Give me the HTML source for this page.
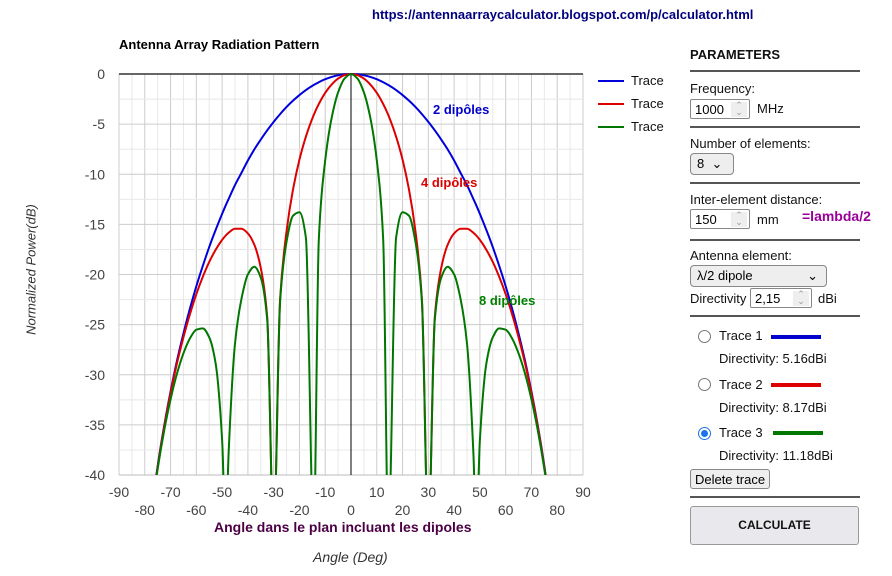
<!DOCTYPE html>
<html style="width:892px;height:576px;overflow:hidden"><head><meta charset="utf-8">
<style>
body{margin:0;width:892px;height:576px;background:#fff;font-family:"Liberation Sans",Arial,sans-serif;position:relative;overflow:hidden}
.a{position:absolute;white-space:nowrap}
.p{font-size:13px;color:#111}
.sep{position:absolute;left:690px;width:170px;height:2px;background:#555}
.inp{position:absolute;border:1px solid #888;border-radius:2px;background:#fff;font-size:13px;height:20px;line-height:20px;padding-left:4px;box-sizing:border-box}
.spin{position:absolute;right:2px;top:2px;width:16px;height:15px;background:#eee;color:#999;font-size:9px;text-align:center;line-height:7px}
.sel{position:absolute;border:1px solid #888;border-radius:4px;background:#eee;font-size:13px;height:22px;line-height:20px;padding-left:6px;box-sizing:border-box}
.radio{position:absolute;width:11px;height:11px;border:1.5px solid #777;border-radius:50%}
</style></head><body>
<div class="a" style="left:372px;top:7px;font-size:13px;font-weight:bold;color:#000080">https://antennaarraycalculator.blogspot.com/p/calculator.html</div>
<div class="a" style="left:119px;top:37px;font-size:13px;font-weight:bold;color:#000">Antenna Array Radiation Pattern</div>

<svg id="chart" width="892" height="576" style="position:absolute;left:0;top:0">
<g id="grid"></g><g id="series"></g><g id="labels"></g>
</svg>

<div class="a" style="left:214px;top:519px;font-size:14px;font-weight:bold;color:#4b0045">Angle dans le plan incluant les dipoles</div>
<div class="a" style="left:313px;top:549px;font-size:14px;font-style:italic;color:#333">Angle (Deg)</div>
<div class="a" style="left:-39px;top:262px;font-size:13px;font-style:italic;color:#333;transform:rotate(-90deg);width:140px;text-align:center">Normalized Power(dB)</div>

<div class="a" style="left:433px;top:102px;font-size:13px;font-weight:bold;color:#0000cc">2 dipôles</div>
<div class="a" style="left:421px;top:175px;font-size:13px;font-weight:bold;color:#dd0000">4 dipôles</div>
<div class="a" style="left:479px;top:293px;font-size:13px;font-weight:bold;color:#008000">8 dipôles</div>

<div>
<div class="a" style="left:598px;top:80px;width:26px;height:2px;background:#0000dd"></div>
<div class="a p" style="left:631px;top:73px">Trace</div>
<div class="a" style="left:598px;top:103px;width:26px;height:2px;background:#dd0000"></div>
<div class="a p" style="left:631px;top:96px">Trace</div>
<div class="a" style="left:598px;top:126px;width:26px;height:2px;background:#007700"></div>
<div class="a p" style="left:631px;top:119px">Trace</div>
</div>

<div class="a" style="left:690px;top:47px;font-size:13px;font-weight:bold;color:#111">PARAMETERS</div>
<div class="sep" style="top:70px"></div>
<div class="a p" style="left:690px;top:81px">Frequency:</div>
<div class="inp" style="left:690px;top:99px;width:60px">1000<div class="spin">⌃<br>⌄</div></div>
<div class="a p" style="left:757px;top:101px">MHz</div>
<div class="sep" style="top:126px"></div>
<div class="a p" style="left:690px;top:136px">Number of elements:</div>
<div class="sel" style="left:690px;top:153px;width:44px">8 &nbsp;⌄</div>
<div class="sep" style="top:182px"></div>
<div class="a p" style="left:690px;top:192px">Inter-element distance:</div>
<div class="inp" style="left:690px;top:209px;width:60px">150<div class="spin">⌃<br>⌄</div></div>
<div class="a p" style="left:757px;top:212px">mm</div>
<div class="a" style="left:802px;top:208px;font-size:14px;font-weight:bold;color:#990099">=lambda/2</div>
<div class="sep" style="top:239px"></div>
<div class="a p" style="left:690px;top:248px">Antenna element:</div>
<div class="sel" style="left:690px;top:265px;width:137px">λ/2 dipole<span style="position:absolute;right:8px">⌄</span></div>
<div class="a p" style="left:690px;top:291px">Directivity</div>
<div class="inp" style="left:750px;top:288px;width:62px">2,15<div class="spin">⌃<br>⌄</div></div>
<div class="a p" style="left:818px;top:291px">dBi</div>
<div class="sep" style="top:315px"></div>

<div class="radio" style="left:698px;top:330px"></div>
<div class="a p" style="left:719px;top:328px">Trace 1</div>
<div class="a" style="left:771px;top:335px;width:50px;height:4px;background:#0000cc"></div>
<div class="a p" style="left:719px;top:351px">Directivity: 5.16dBi</div>
<div class="radio" style="left:698px;top:378px"></div>
<div class="a p" style="left:719px;top:377px">Trace 2</div>
<div class="a" style="left:771px;top:383px;width:50px;height:4px;background:#dd0000"></div>
<div class="a p" style="left:719px;top:400px">Directivity: 8.17dBi</div>
<div class="radio" style="left:698px;top:427px;border-color:#1a73e8"><div style="position:absolute;left:2px;top:2px;width:7px;height:7px;border-radius:50%;background:#1a73e8"></div></div>
<div class="a p" style="left:719px;top:425px">Trace 3</div>
<div class="a" style="left:773px;top:431px;width:50px;height:4px;background:#007700"></div>
<div class="a p" style="left:719px;top:448px">Directivity: 11.18dBi</div>
<div class="a" style="left:690px;top:469px;width:80px;height:20px;border:1px solid #888;border-radius:3px;background:#eee;font-size:13px;line-height:20px;text-align:center;box-sizing:border-box">Delete trace</div>
<div class="sep" style="top:496px"></div>
<div class="a" style="left:690px;top:506px;width:169px;height:39px;border:1px solid #999;border-radius:3px;background:#e9e9ed;font-size:12px;font-weight:bold;line-height:37px;text-align:center;box-sizing:border-box;color:#111">CALCULATE</div>

<script>
const angles = [-77.5,-75,-72.5,-70,-67.5,-65,-62.5,-60,-57.5,-55,-52.5,-50,-48.59,-47.5,-45,-42.5,-40,-37.5,-35,-32.5,-30,-27.5,-25,-22.5,-20,-17.5,-14.48,-12.5,-10,-7.5,-5,-2.5,0,2.5,5,7.5,10,12.5,14.48,17.5,20,22.5,25,27.5,30,32.5,35,37.5,40,42.5,45,47.5,48.59,50,52.5,55,57.5,60,62.5,65,67.5,70,72.5,75,77.5];
const trace2 = [-43.9,-39.1,-35.13,-31.67,-28.59,-25.88,-23.41,-21.17,-19.15,-17.26,-15.55,-13.95,-13.1,-12.48,-11.08,-9.86,-8.63,-7.52,-6.54,-5.62,-4.77,-4.0,-3.29,-2.66,-2.1,-1.6,-1.1,-0.82,-0.52,-0.29,-0.13,-0.03,0,-0.03,-0.13,-0.29,-0.52,-0.82,-1.1,-1.6,-2.1,-2.66,-3.29,-4.0,-4.77,-5.62,-6.54,-7.52,-8.63,-9.86,-11.08,-12.48,-13.1,-13.95,-15.55,-17.26,-19.15,-21.17,-23.41,-25.88,-28.59,-31.67,-35.13,-39.1,-43.9];
const trace4 = [-44,-39.2,-35.23,-31.83,-28.84,-26.26,-23.97,-21.96,-20.24,-18.75,-17.53,-16.55,-16.11,-15.84,-15.44,-15.44,-15.9,-17.03,-19.35,-24.27,-60,-22.42,-15.67,-11.53,-8.54,-6.25,-4.1,-3.0,-1.88,-1.05,-0.46,-0.11,0,-0.11,-0.46,-1.05,-1.88,-3.0,-4.1,-6.25,-8.54,-11.53,-15.67,-22.42,-60,-24.27,-19.35,-17.03,-15.9,-15.44,-15.44,-15.84,-16.11,-16.55,-17.53,-18.75,-20.24,-21.96,-23.97,-26.26,-28.84,-31.83,-35.23,-39.2,-44];
const trace8 = [-44.2,-39.4,-35.6,-32.46,-29.88,-27.86,-26.38,-25.5,-25.37,-26.27,-28.9,-36.49,-60,-37.94,-26.9,-22.44,-19.99,-19.23,-20.31,-24.51,-60,-22.68,-16.73,-14.14,-13.79,-16.32,-60,-16.58,-8.6,-4.37,-1.83,-0.45,0,-0.45,-1.83,-4.37,-8.6,-16.58,-60,-16.32,-13.79,-14.14,-16.73,-22.68,-60,-24.51,-20.31,-19.23,-19.99,-22.44,-26.9,-37.94,-60,-36.49,-28.9,-26.27,-25.37,-25.5,-26.38,-27.86,-29.88,-32.46,-35.6,-39.4,-44.2];
const xTicks = [-90,-80,-70,-60,-50,-40,-30,-20,-10,0,10,20,30,40,50,60,70,80,90];
const yTicks = [0,-5,-10,-15,-20,-25,-30,-35,-40];

const X0=119,X1=583,Y0=74,Y1=475;
const xs=v=>X0+(v+90)/180*(X1-X0);
const ys=v=>Y0+(0-v)/40*(Y1-Y0);
const NS='http://www.w3.org/2000/svg';
function mk(tag,attrs,parent){const e=document.createElementNS(NS,tag);for(const k in attrs)e.setAttribute(k,attrs[k]);parent.appendChild(e);return e;}
const gridG=document.getElementById('grid'),serG=document.getElementById('series'),labG=document.getElementById('labels');
const chartSvg=document.getElementById('chart');
const defsEl=mk('defs',{},chartSvg);const clipEl=mk('clipPath',{id:'clip'},defsEl);mk('rect',{x:X0,y:Y0-3,width:X1-X0,height:Y1-Y0+3},clipEl);

for(let v=-90;v<=90;v+=5){
  const l=mk('line',{x1:xs(v),x2:xs(v),y1:Y0,y2:Y1,stroke:(v%10===0)?'#cccccc':'#e8e8e8','stroke-width':1},gridG);
  
  
}
for(let v=0;v>=-40;v-=2.5){
  const l=mk('line',{x1:X0,x2:X1,y1:ys(v),y2:ys(v),stroke:(v%5===0)?'#cccccc':'#e8e8e8','stroke-width':1},gridG);
  
  
}
const topBorder=mk('line',{x1:X0,x2:X1,y1:Y0,y2:Y0,stroke:'#333','stroke-width':1.5},gridG);


const bottomAxis=mk('line',{x1:X0,x2:X1,y1:Y1,y2:Y1,stroke:'#bbb','stroke-width':1},gridG);


const zeroLine=mk('line',{x1:xs(0),x2:xs(0),y1:Y0,y2:Y1,stroke:'#000','stroke-width':1},gridG);



xTicks.forEach((v,i)=>{
  const t=mk('text',{x:xs(v),y:(i%2===0)?497:515,'text-anchor':'middle','font-size':14,fill:'#444','font-family':'Liberation Sans, sans-serif'},labG);
  t.textContent=v;
  
  
});
yTicks.forEach(v=>{
  const t=mk('text',{x:105,y:ys(v)+5,'text-anchor':'end','font-size':14,fill:'#444','font-family':'Liberation Sans, sans-serif'},labG);
  t.textContent=v;
  
  
});

function monotonePath(px,py){
  const n=px.length,dx=[],m=[],t=new Array(n);
  for(let i=0;i<n-1;i++){dx[i]=px[i+1]-px[i];m[i]=(py[i+1]-py[i])/dx[i];}
  t[0]=m[0];t[n-1]=m[n-2];
  for(let i=1;i<n-1;i++){
    if(m[i-1]*m[i]<=0)t[i]=0;
    else{const w1=2*dx[i]+dx[i-1],w2=dx[i]+2*dx[i-1];t[i]=(w1+w2)/(w1/m[i-1]+w2/m[i]);}
  }
  let d='M'+px[0].toFixed(2)+','+py[0].toFixed(2);
  for(let i=0;i<n-1;i++){
    const h=dx[i]/3;
    d+='C'+(px[i]+h).toFixed(2)+','+(py[i]+t[i]*h).toFixed(2)+' '+(px[i+1]-h).toFixed(2)+','+(py[i+1]-t[i+1]*h).toFixed(2)+' '+px[i+1].toFixed(2)+','+py[i+1].toFixed(2);
  }
  return d;
}
function draw(vals,color,name){
  const px=angles.map(a=>xs(a)),py=vals.map(v=>ys(Math.max(v,-46)));
  const p=mk('path',{d:monotonePath(px,py),fill:'none',stroke:color,'stroke-width':2,'clip-path':'url(#clip)','stroke-linejoin':'round'},serG);
  
  
}
draw(trace2,'#0000dd','series-2-dipoles');
draw(trace4,'#dd0000','series-4-dipoles');
draw(trace8,'#007700','series-8-dipoles');
</script>
</body></html>
